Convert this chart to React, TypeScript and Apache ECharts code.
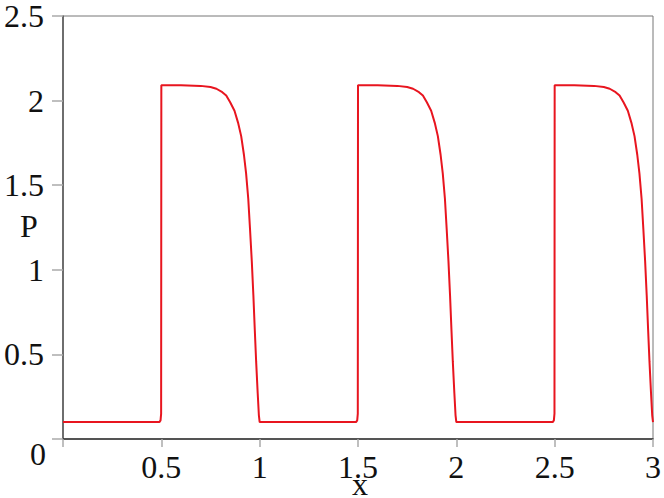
import React, { useEffect, useRef } from "react";
import * as echarts from "echarts";

const xTicks = [0, 0.5, 1, 1.5, 2, 2.5, 3];
const yTicks = [0, 0.5, 1, 1.5, 2, 2.5];

// P(x)
const curve: [number, number][] = [
  [0, 0.1], [0.49, 0.1], [0.496, 0.11], [0.499, 0.15], [0.5, 2.09],
  [0.6, 2.09], [0.7, 2.087], [0.75, 2.08], [0.78, 2.07], [0.81, 2.05], [0.83, 2.03],
  [0.85, 1.99], [0.872, 1.94], [0.89, 1.87], [0.906, 1.79], [0.92, 1.68],
  [0.931, 1.57], [0.942, 1.42], [0.951, 1.24], [0.96, 1.05], [0.968, 0.85],
  [0.975, 0.65], [0.982, 0.46], [0.99, 0.27], [0.996, 0.14], [1.0, 0.1],
  [1.49, 0.1], [1.496, 0.11], [1.499, 0.15], [1.5, 2.09],
  [1.6, 2.09], [1.7, 2.087], [1.75, 2.08], [1.78, 2.07], [1.81, 2.05], [1.83, 2.03],
  [1.85, 1.99], [1.872, 1.94], [1.89, 1.87], [1.906, 1.79], [1.92, 1.68],
  [1.931, 1.57], [1.942, 1.42], [1.951, 1.24], [1.96, 1.05], [1.968, 0.85],
  [1.975, 0.65], [1.982, 0.46], [1.99, 0.27], [1.996, 0.14], [2.0, 0.1],
  [2.49, 0.1], [2.496, 0.11], [2.499, 0.15], [2.5, 2.09],
  [2.6, 2.09], [2.7, 2.087], [2.75, 2.08], [2.78, 2.07], [2.81, 2.05], [2.83, 2.03],
  [2.85, 1.99], [2.872, 1.94], [2.89, 1.87], [2.906, 1.79], [2.92, 1.68],
  [2.931, 1.57], [2.942, 1.42], [2.951, 1.24], [2.96, 1.05], [2.968, 0.85],
  [2.975, 0.65], [2.982, 0.46], [2.99, 0.27], [2.996, 0.14], [3.0, 0.1],
];

const FONT = "'Liberation Serif', 'Times New Roman', serif";

export default function App() {
  const ref = useRef<HTMLDivElement>(null);
  useEffect(() => {
    if (!ref.current) return;
    const chart = echarts.init(ref.current, undefined, { renderer: "svg" });
    chart.setOption({
      animation: false,
      backgroundColor: "#ffffff",
      grid: { left: 63, right: 7, top: 11, bottom: 59, show: true, borderColor: "#777", borderWidth: 1 },
      xAxis: {
        type: "value",
        min: 0,
        max: 3,
        interval: 0.5,
        axisLine: { show: true, lineStyle: { color: "#333", width: 1.5 } },
        axisTick: { show: true, inside: false, length: 8, lineStyle: { color: "#aaa", width: 1.5 } },
        splitLine: { show: false },
        axisLabel: {
          margin: 12,
          fontFamily: FONT,
          fontSize: 32,
          color: "#111",
          formatter: (v: number) => (v === 0 ? "" : xTicks.includes(v) ? String(v) : ""),
        },
      },
      yAxis: {
        type: "value",
        min: 0,
        max: 2.5,
        interval: 0.5,
        axisLine: { show: true, lineStyle: { color: "#555", width: 1.5 } },
        axisTick: { show: true, inside: false, length: 11, lineStyle: { color: "#aaa", width: 1.5 } },
        splitLine: { show: false },
        axisLabel: {
          margin: 19,
          fontFamily: FONT,
          fontSize: 32,
          color: "#111",
          formatter: (v: number) => (v === 0 ? "" : yTicks.includes(v) ? String(v) : ""),
        },
      },
      graphic: [
        { type: "text", left: 30, top: 438, style: { text: "0", font: `32px ${FONT}`, fill: "#111" } },
        { type: "text", x: 29, y: 226, style: { text: "P", font: `32px ${FONT}`, fill: "#111", align: "center", verticalAlign: "middle" } },
        { type: "text", x: 360, y: 484, style: { text: "x", font: `32px ${FONT}`, fill: "#111", align: "center", verticalAlign: "middle" } },
      ],
      series: [
        {
          type: "line",
          data: curve,
          showSymbol: false,
          lineStyle: { color: "#e8151f", width: 2 },
          clip: false,
        },
      ],
    });
    return () => chart.dispose();
  }, []);
  return <div ref={ref} style={{ width: 664, height: 498, position: "absolute", left: 0, top: 0 }} />;
}
